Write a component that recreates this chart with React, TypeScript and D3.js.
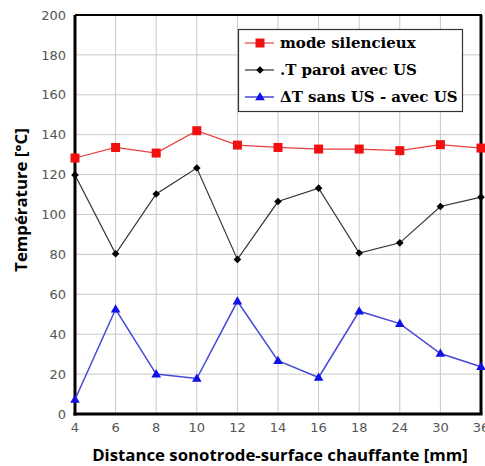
import React from "react";
import * as d3 from "d3";

const categories = ["4", "6", "8", "10", "12", "14", "16", "18", "24", "30", "36"];
const modeSilencieux = [128.3, 133.6, 130.8, 142, 134.8, 133.6, 132.8, 132.8, 132, 135, 133.3];
const tParoi = [119.8, 80.3, 110.3, 123.3, 77.5, 106.5, 113.2, 80.7, 85.8, 104, 108.7];
const deltaT = [7.3, 52.5, 20, 17.8, 56.5, 26.7, 18.3, 51.5, 45.3, 30.3, 23.7];
const yTicks = [0, 20, 40, 60, 80, 100, 120, 140, 160, 180, 200];
const legendLabels = ["mode silencieux", ".T paroi avec US", "\u0394T sans US - avec US"];

const W = 485, H = 466;
const L = 75, R = 481, T = 15, B = 414;

export default function App() {
  const x = d3.scalePoint<string>().domain(categories).range([L, R]);
  const y = d3.scaleLinear().domain([0, 200]).range([B, T]);
  const line = d3
    .line<number>()
    .x((_, i) => x(categories[i]) as number)
    .y((d) => y(d));

  const tri = d3.symbol().type(d3.symbolTriangle).size(40)() as string;

  const square = (cx: number, cy: number, k: string) => (
    <rect key={k} x={cx - 4.5} y={cy - 4.5} width={9} height={9} fill="#f01010" />
  );
  const diamond = (cx: number, cy: number, k: string) => (
    <path key={k} d={`M${cx},${cy - 3.8}L${cx + 3.8},${cy}L${cx},${cy + 3.8}L${cx - 3.8},${cy}Z`} fill="#000" />
  );
  const triangle = (cx: number, cy: number, k: string) => (
    <path key={k} d={tri} transform={`translate(${cx},${cy + 0.5})`} fill="#1010e8" />
  );

  const legendY = [43, 70, 97];
  const sans = "'Open Sans', 'DejaVu Sans', sans-serif";

  return (
    <svg
      width={W}
      height={H}
      style={{ position: "absolute", left: 0, top: 0, background: "#fff" }}
    >
      {/* grid */}
      {yTicks.map((t) => (
        <line key={"gy" + t} x1={L} x2={R} y1={y(t)} y2={y(t)} stroke="#c8c8c8" strokeWidth={1} />
      ))}
      {categories.map((c) => (
        <line key={"gx" + c} x1={x(c)} x2={x(c)} y1={T} y2={B} stroke="#c8c8c8" strokeWidth={1} />
      ))}
      {/* frame */}
      <line x1={L} x2={R + 1} y1={T} y2={T} stroke="#000" strokeWidth={2} />
      <line x1={R} x2={R} y1={T} y2={B} stroke="#000" strokeWidth={3} />
      <line x1={L} x2={L} y1={T} y2={B + 1.5} stroke="#000" strokeWidth={3} />
      <line x1={L - 1.5} x2={R + 1.5} y1={B} y2={B} stroke="#000" strokeWidth={3} />

      {/* y tick labels */}
      {yTicks.map((t) => (
        <text
          key={"ty" + t}
          x={66}
          y={y(t)}
          dy="0.36em"
          textAnchor="end"
          fontFamily="DejaVu Sans"
          fontSize={13}
          fill="#555"
        >
          {t}
        </text>
      ))}
      {/* x tick labels */}
      {categories.map((c) => (
        <text
          key={"tx" + c}
          x={x(c)}
          y={427}
          dy="0.36em"
          textAnchor="middle"
          fontFamily="DejaVu Sans"
          fontSize={13}
          fill="#555"
        >
          {c}
        </text>
      ))}

      {/* series */}
      <path d={line(modeSilencieux) as string} fill="none" stroke="#e84040" strokeWidth={1.2} />
      <path d={line(tParoi) as string} fill="none" stroke="#333" strokeWidth={1.2} />
      <path d={line(deltaT) as string} fill="none" stroke="#4848d8" strokeWidth={1.5} />
      {modeSilencieux.map((v, i) => square(x(categories[i]) as number, y(v), "s" + i))}
      {tParoi.map((v, i) => diamond(x(categories[i]) as number, y(v), "d" + i))}
      {deltaT.map((v, i) => triangle(x(categories[i]) as number, y(v), "t" + i))}

      {/* legend */}
      <rect x={238.5} y={29.5} width={224} height={82} fill="#fff" stroke="#333" strokeWidth={1.2} />
      <line x1={245} x2={274} y1={legendY[0]} y2={legendY[0]} stroke="#e84040" strokeWidth={1.2} />
      {square(260, legendY[0], "ls")}
      <line x1={245} x2={274} y1={legendY[1]} y2={legendY[1]} stroke="#333" strokeWidth={1.2} />
      {diamond(260, legendY[1], "ld")}
      <line x1={245} x2={274} y1={legendY[2]} y2={legendY[2]} stroke="#4848d8" strokeWidth={1.5} />
      {triangle(260, legendY[2], "lt")}
      {legendLabels.map((l, i) => (
        <text
          key={"l" + i}
          x={280}
          y={legendY[i]}
          dy="0.34em"
          style={{ fontFamily: "'DejaVu Serif', serif", fontWeight: 700, fontSize: "15px" }}
          fill="#000"
        >
          {l}
        </text>
      ))}

      {/* axis titles */}
      <text
        x={280}
        y={461}
        textAnchor="middle"
        fontFamily={sans}
        fontWeight="bold"
        fontSize={16.8}
        fill="#000"
      >
        Distance sonotrode-surface chauffante [mm]
      </text>
      <text
        transform={`translate(27,200) rotate(-90)`}
        textAnchor="middle"
        fontFamily={sans}
        fontWeight="bold"
        fontSize={16.8}
        fill="#000"
      >
        Température [°C]
      </text>
    </svg>
  );
}
